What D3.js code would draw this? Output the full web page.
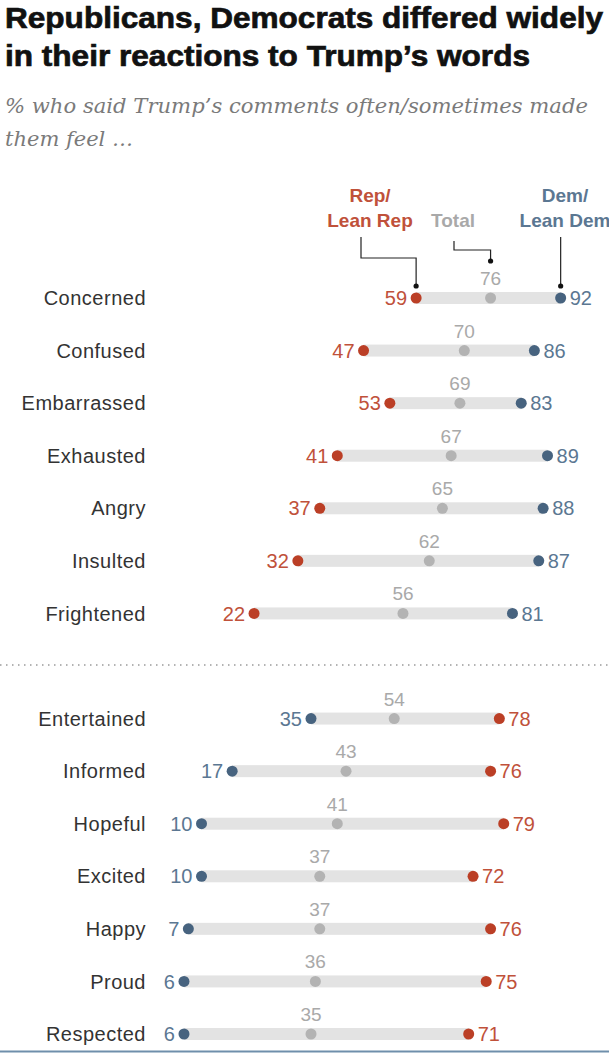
<!DOCTYPE html>
<html>
<head>
<meta charset="utf-8">
<script src="https://cdn.jsdelivr.net/npm/d3@7"></script>
<style>
  html, body { margin: 0; padding: 0; background: #fff; }
  svg { display: block; }
</style>
</head>
<body>
<div id="chart"></div>
<script>
// Feelings Trump's comments produced, by party
const negCategories = ["Concerned", "Confused", "Embarrassed", "Exhausted", "Angry", "Insulted", "Frightened"];
const negRep   = [59, 47, 53, 41, 37, 32, 22];
const negTotal = [76, 70, 69, 67, 65, 62, 56];
const negDem   = [92, 86, 83, 89, 88, 87, 81];

const posCategories = ["Entertained", "Informed", "Hopeful", "Excited", "Happy", "Proud", "Respected"];
const posRep   = [78, 76, 79, 72, 76, 75, 71];
const posTotal = [54, 43, 41, 37, 37, 36, 35];
const posDem   = [35, 17, 10, 10, 7, 6, 6];

const titleLines = ["Republicans, Democrats differed widely", "in their reactions to Trump\u2019s words"];
const subtitleLines = ["% who said Trump\u2019s comments often/sometimes made", "them feel \u2026"];
const legendRep = ["Rep/", "Lean Rep"];
const legendTotal = ["Total"];
const legendDem = ["Dem/", "Lean Dem"];

const W = 609, H = 1053;
const C = {
  rep: "#bb3f26", repText: "#c0513a",
  dem: "#47637f", demText: "#5b7792",
  total: "#b3b3b3", totalText: "#a9a9a9",
  bar: "#e3e3e3", label: "#333333"
};

const rows = [];
negCategories.forEach((c, i) => rows.push({ key: c, rep: negRep[i], total: negTotal[i], dem: negDem[i] }));
const GAP = "__gap__";
posCategories.forEach((c, i) => rows.push({ key: c, rep: posRep[i], total: posTotal[i], dem: posDem[i] }));

const svg = d3.select("#chart").append("svg").attr("width", W).attr("height", H);
svg.append("rect").attr("width", W).attr("height", H).attr("fill", "#fff");

// Title
svg.append("g").selectAll("text").data(titleLines).join("text")
  .attr("x", 5).attr("y", (d, i) => 28 + i * 38)
  .attr("font-family", "'Liberation Sans', Arial, sans-serif")
  .attr("font-weight", "bold").attr("font-size", 29).attr("fill", "#111")
  .attr("stroke", "#111").attr("stroke-width", 0.7)
  .attr("textLength", (d, i) => i === 0 ? 598 : 525)
  .attr("lengthAdjust", "spacingAndGlyphs")
  .text(d => d);

// Subtitle
svg.append("g").selectAll("text").data(subtitleLines).join("text")
  .attr("x", 5).attr("y", (d, i) => 113 + i * 33)
  .attr("font-family", "'DejaVu Serif', Georgia, serif")
  .attr("font-style", "italic").attr("font-size", 20).attr("fill", "#7a7a7a")
  .attr("textLength", (d, i) => i === 0 ? 583 : 128)
  .attr("lengthAdjust", "spacingAndGlyphs")
  .text(d => d);

// Scales
const x = d3.scaleLinear().domain([0, 100]).range([157.7, 595.7]);
const yDomain = negCategories.concat([GAP]).concat(posCategories);
const y = d3.scalePoint().domain(yDomain).range([298, 1034]);

// Separator between negative and positive feelings
const sepY = y(GAP) - 1;
svg.append("line")
  .attr("x1", 0).attr("x2", W).attr("y1", sepY).attr("y2", sepY)
  .attr("stroke", "#9a9a9a").attr("stroke-width", 1.5)
  .attr("stroke-dasharray", "1.5,4.5");

const numFont = "'Liberation Sans', Arial, sans-serif";

const row = svg.append("g").selectAll("g").data(rows).join("g")
  .attr("transform", d => `translate(0,${y(d.key)})`);

// Category labels
row.append("text")
  .attr("x", 146).attr("dy", "0.36em").attr("text-anchor", "end")
  .attr("font-family", numFont).attr("font-size", 20).attr("fill", C.label)
  .attr("letter-spacing", 0.5)
  .text(d => d.key);

// Range bars
row.append("rect")
  .attr("x", d => x(Math.min(d.rep, d.dem)))
  .attr("width", d => x(Math.max(d.rep, d.dem)) - x(Math.min(d.rep, d.dem)))
  .attr("y", -6).attr("height", 12)
  .attr("fill", C.bar);

// Dots
row.append("circle").attr("cx", d => x(d.total)).attr("r", 5.5).attr("fill", C.total);
row.append("circle").attr("cx", d => x(d.rep)).attr("r", 5.5).attr("fill", C.rep);
row.append("circle").attr("cx", d => x(d.dem)).attr("r", 5.5).attr("fill", C.dem);

// Value labels
row.append("text")
  .attr("x", d => x(d.total)).attr("y", -13).attr("text-anchor", "middle")
  .attr("font-family", numFont).attr("font-size", 19).attr("fill", C.totalText)
  .text(d => d.total);

row.append("text")
  .attr("x", d => d.rep < d.dem ? x(d.rep) - 9 : x(d.rep) + 9)
  .attr("dy", "0.36em")
  .attr("text-anchor", d => d.rep < d.dem ? "end" : "start")
  .attr("font-family", numFont).attr("font-size", 20).attr("fill", C.repText)
  .text(d => d.rep);

row.append("text")
  .attr("x", d => d.dem < d.rep ? x(d.dem) - 9 : x(d.dem) + 9)
  .attr("dy", "0.36em")
  .attr("text-anchor", d => d.dem < d.rep ? "end" : "start")
  .attr("font-family", numFont).attr("font-size", 20).attr("fill", C.demText)
  .text(d => d.dem);

// Legend
const first = rows[0];
const legend = svg.append("g")
  .attr("font-family", numFont).attr("font-weight", "bold").attr("font-size", 19)
  .attr("text-anchor", "middle");

legend.selectAll(".lr").data(legendRep).join("text").attr("class", "lr")
  .attr("x", 370).attr("y", (d, i) => 202 + i * 25).attr("fill", C.repText).text(d => d);
legend.selectAll(".lt").data(legendTotal).join("text").attr("class", "lt")
  .attr("x", 453).attr("y", 227).attr("fill", C.totalText).text(d => d);
legend.selectAll(".ld").data(legendDem).join("text").attr("class", "ld")
  .attr("x", 565).attr("y", (d, i) => 202 + i * 25).attr("fill", C.demText).text(d => d);

// Leader lines from legend to the first row
const leaders = svg.append("g").attr("fill", "none").attr("stroke", "#222").attr("stroke-width", 1.2);
const repX = x(first.rep), totX = x(first.total), demX = x(first.dem);
leaders.append("path").attr("d", `M361,237V258H${repX}V285`);
leaders.append("path").attr("d", `M454,241V250H${totX}V261`);
leaders.append("path").attr("d", `M${demX},237V285`);
svg.append("g").attr("fill", "#111").selectAll("circle")
  .data([[repX, 286], [totX, 261], [demX, 286]]).join("circle")
  .attr("cx", d => d[0]).attr("cy", d => d[1]).attr("r", 2.6);

// Bottom rule
svg.append("line").attr("x1", 0).attr("x2", W).attr("y1", H - 1.5).attr("y2", H - 1.5)
  .attr("stroke", "#6f8fab").attr("stroke-width", 2);
</script>
</body>
</html>
